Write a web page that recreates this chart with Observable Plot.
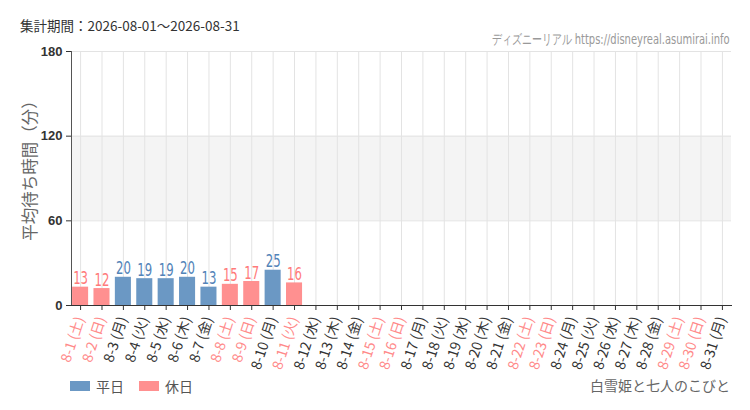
<!DOCTYPE html>
<html>
<head>
<meta charset="utf-8">
<script src="https://cdn.jsdelivr.net/npm/d3@7"></script>
<script src="https://cdn.jsdelivr.net/npm/@observablehq/plot@0.6"></script>
<style>
  html, body { margin: 0; padding: 0; background: #fff; }
  #wrap { position: relative; width: 750px; height: 410px; font-family: "Noto Sans CJK JP", "Noto Sans", sans-serif; }
  .abs { position: absolute; white-space: nowrap; }
  #period { left: 20px; top: 15px; font-size: 13.5px; color: #333; }
  #credit { right: 20px; top: 31px; font-size: 14px; color: #999; font-family: "DejaVu Sans", sans-serif; transform: scaleX(0.71); transform-origin: right center; }
  #legend { left: 70px; top: 376px; font-size: 14px; color: #555; display: flex; align-items: center; }
  .sw { display: inline-block; width: 20px; height: 10px; margin-right: 6px; }
  #attr { right: 20px; top: 375px; font-size: 14px; color: #666; }
</style>
</head>
<body>
<div id="wrap">
  <div id="chart"></div>
  <div class="abs" id="period">集計期間：2026-08-01～2026-08-31</div>
  <div class="abs" id="credit">ディズニーリアル https://disneyreal.asumirai.info</div>
  <div class="abs" id="legend">
    <span class="sw" style="background:#6b98c4"></span><span style="margin-right:15px">平日</span>
    <span class="sw" style="background:#ff9090"></span><span>休日</span>
  </div>
  <div class="abs" id="attr">白雪姫と七人のこびと</div>
</div>
<script>
const days = ["8-1","8-2","8-3","8-4","8-5","8-6","8-7","8-8","8-9","8-10","8-11","8-12","8-13","8-14","8-15","8-16","8-17","8-18","8-19","8-20","8-21","8-22","8-23","8-24","8-25","8-26","8-27","8-28","8-29","8-30","8-31"];
const weekdays = ["土","日","月","火","水","木","金","土","日","月","火","水","木","金","土","日","月","火","水","木","金","土","日","月","火","水","木","金","土","日","月"];
const holidays = [1,1,0,0,0,0,0,1,1,0,1,0,0,0,1,1,0,0,0,0,0,1,1,0,0,0,0,0,1,1,0];
const waits = [13,12,20,19,19,20,13,15,17,25,16,null,null,null,null,null,null,null,null,null,null,null,null,null,null,null,null,null,null,null,null];
const yTicks = [0, 60, 120, 180];

const data = days.map((d, i) => ({
  day: d,
  label: `${d} (${weekdays[i]})`,
  holiday: holidays[i] === 1,
  value: waits[i]
}));
const withValue = data.filter(d => d.value != null);

const barColor = d => d.holiday ? "#ff9090" : "#6b98c4";
const textColor = d => d.holiday ? "#ff7a7a" : "#5283b8";

const squeeze = (i, s, v, d, ctx, next) => {
  const g = next(i, s, v, d, ctx);
  d3.select(g).selectAll("text").each(function() {
    const t = d3.select(this);
    t.attr("transform", (t.attr("transform") || "") + " scale(0.65,1)");
  });
  return g;
};

const chart = Plot.plot({
  width: 750,
  height: 410,
  marginTop: 51,
  marginBottom: 105,
  marginLeft: 71,
  marginRight: 19,
  style: { fontFamily: "Liberation Sans, Noto Sans CJK JP, sans-serif", background: "transparent" },
  x: { domain: days, paddingInner: 0.25, paddingOuter: 0.05, round: false, axis: null },
  y: { domain: [0, 180], axis: null },
  marks: [
    Plot.rect([{}], { y1: 60, y2: 120, fill: "#f4f4f4" }),
    Plot.gridX(days, { stroke: "#e3e3e3", strokeOpacity: 1 }),
    Plot.gridY(yTicks, { stroke: "#e3e3e3", strokeOpacity: 1 }),
    Plot.barY(withValue, { x: "day", y: "value", fill: barColor }),
    Plot.text(withValue, { x: "day", y: "value", text: d => String(d.value), lineAnchor: "bottom", dy: -3, fill: textColor, fontSize: 18, fontFamily: "DejaVu Sans, sans-serif", render: squeeze }),
    Plot.axisX(days, { tickSize: 5, tickFormat: () => "", stroke: "#333", label: null }),
    Plot.text(data, { x: "day", frameAnchor: "bottom", text: "label", rotate: -72, textAnchor: "end", dy: 13, dx: 4, fontSize: 14, fill: d => d.holiday ? "#ff8a8a" : "#333", fontFamily: "Noto Sans CJK JP, sans-serif" }),
    Plot.axisY(yTicks, { tickSize: 5, fontSize: 13, fontWeight: "bold", fill: "#333", stroke: "#333", label: null }),
    Plot.frame({ anchor: "left", stroke: "#555" }),
    Plot.frame({ anchor: "bottom", stroke: "#333" }),
    Plot.text(["平均待ち時間（分）"], { frameAnchor: "left", textAnchor: "middle", rotate: -90, dx: -41, dy: -12, fontSize: 16.5, fill: "#666", fontFamily: "Noto Sans CJK JP, sans-serif" })
  ]
});
document.getElementById("chart").appendChild(chart);
</script>
</body>
</html>
